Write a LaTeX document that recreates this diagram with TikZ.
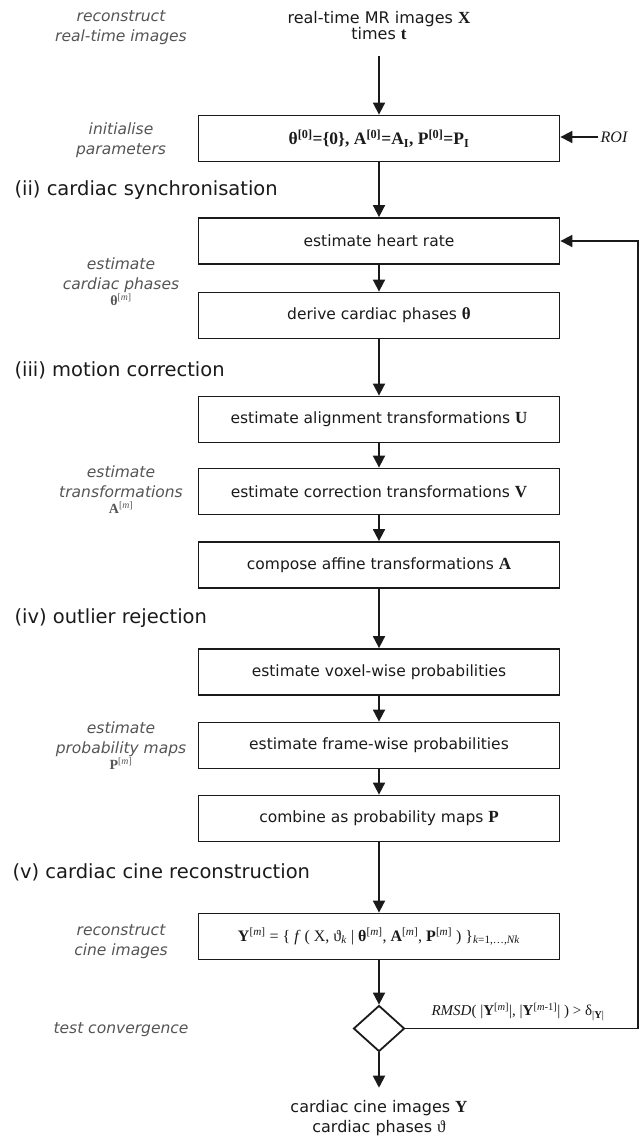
\documentclass[tikz,border=0pt]{standalone}
\usepackage{fontspec}
\setmainfont{DejaVu Sans}
\newfontfamily\tms{Liberation Serif}
\usetikzlibrary{arrows.meta,shapes.geometric}
\definecolor{lbl}{HTML}{555555}
\definecolor{ink}{HTML}{1A1A1A}
\newcommand{\sups}[1]{\textsuperscript{\mdseries[\textit{#1}]}}
\newcommand{\bsf}[1]{{\tms\bfseries\fontsize{17}{19}\selectfont #1}}
\begin{document}
\begin{tikzpicture}[x=1pt,y=-1pt,
  box/.style={draw=ink, line width=1.8pt, minimum width=361pt, minimum height=46pt, inner sep=0pt,
    font=\fontsize{15.5}{19}\selectfont, text=ink},
  arr/.style={draw=ink, line width=1.8pt, -{Triangle[length=12pt,width=12pt]}},
  side/.style={text=lbl, font=\fontsize{15.5}{20}\selectfont\itshape, align=center},
  head/.style={anchor=west, text=ink, font=\fontsize{19.5}{23}\selectfont},
  iolabel/.style={text=ink, align=center},
  ]
\useasboundingbox (0,0) rectangle (642,1137);

% input / output
\node[iolabel, font=\fontsize{16}{15}\selectfont] (input) at (379,25.5)
  {real-time MR images \bsf{X}\\times \bsf{t}};
\node[iolabel, font=\fontsize{16}{20}\selectfont] (output) at (379,1118)
  {cardiac cine images \bsf{Y}\\cardiac phases {\tms\fontsize{17}{19}\selectfont ϑ}};

% boxes
\node[box] (init) at (379,138.5)
  {{\tms\bfseries\fontsize{17.5}{19}\selectfont θ\textsuperscript{[0]}=\{0\}, A\textsuperscript{[0]}=A\textsubscript{I}, P\textsuperscript{[0]}=P\textsubscript{I}}};
\node[box] (heart) at (379,241) {estimate heart rate};
\node[box] (derive) at (379,315.5) {derive cardiac phases \bsf{θ}};
\node[box] (align) at (379,419.5) {estimate alignment transformations \bsf{U}};
\node[box] (correct) at (379,491.5) {estimate correction transformations \bsf{V}};
\node[box] (compose) at (379,565) {compose affine transformations \bsf{A}};
\node[box] (voxel) at (379,672) {estimate voxel-wise probabilities};
\node[box] (frame) at (379,745.5) {estimate frame-wise probabilities};
\node[box] (combine) at (379,818.5) {combine as probability maps \bsf{P}};
\node[box] (recon) at (379,936.5)
  {{\tms\fontsize{16}{19}\selectfont \textbf{Y}\sups{m} = \{ \textit{f} ( X, ϑ\textsubscript{\textit{k}} | \textbf{θ}\sups{m}, \textbf{A}\sups{m}, \textbf{P}\sups{m} ) \}\textsubscript{\textit{k}=1,…,\textit{Nk}}}};
\node[draw=ink, line width=1.8pt, diamond, minimum width=51pt, minimum height=46pt, inner sep=0pt] (dia) at (379,1028.5) {};

% side input
\node[text=ink, inner sep=2pt, font=\tms\itshape\fontsize{16}{18}\selectfont] (roi) at (614,137) {ROI};

% section headers
\node[head] (h2) at (11,190) {(ii) cardiac synchronisation};
\node[head] (h3) at (11,370) {(iii) motion correction};
\node[head] (h4) at (11,618) {(iv) outlier rejection};
\node[head] (h5) at (9,872) {(v) cardiac cine reconstruction};

% left labels
\node[side] (l1) at (121,27.5) {reconstruct\\real-time images};
\node[side] (l2) at (121,140) {initialise\\parameters};
\node[side] (l3) at (121,282) {estimate\\cardiac phases\\[-4pt]{\upshape\fontsize{14}{14}\selectfont\tms\bfseries θ\sups{m}}};
\node[side] (l4) at (121,490) {estimate\\transformations\\[-4pt]{\upshape\fontsize{14}{14}\selectfont\tms\bfseries A\sups{m}}};
\node[side] (l5) at (121,746) {estimate\\probability maps\\[-4pt]{\upshape\fontsize{14}{14}\selectfont\tms\bfseries P\sups{m}}};
\node[side] (l6) at (121,942) {reconstruct\\cine images};
\node[side] (l7) at (121,1030) {test convergence};

% RMSD label
\node[text=ink, font=\tms\fontsize{15}{18}\selectfont] (rmsd) at (518,1012)
  {\textit{RMSD}( |\textbf{Y}\sups{m}|, |\textbf{Y}\textsuperscript{\mdseries[\textit{m}-1]}| ) > δ\textsubscript{|\textbf{Y}|}};

% connectors
\draw[arr, shorten <=13pt] (input) -- (init);
\draw[arr] (roi.west) -- (roi.west -| init.east);
\draw[arr] (init) -- (heart);
\draw[arr] (heart) -- (derive);
\draw[arr] (derive) -- (align);
\draw[arr] (align) -- (correct);
\draw[arr] (correct) -- (compose);
\draw[arr] (compose) -- (voxel);
\draw[arr] (voxel) -- (frame);
\draw[arr] (frame) -- (combine);
\draw[arr] (combine) -- (recon);
\draw[arr] (recon) -- (dia);
\draw[arr, shorten >=9pt] (dia) -- (output);
\coordinate (fbc) at (638,1028.5);
\draw[arr] (dia.east) -- (fbc) |- (heart.east);
\end{tikzpicture}
\end{document}
